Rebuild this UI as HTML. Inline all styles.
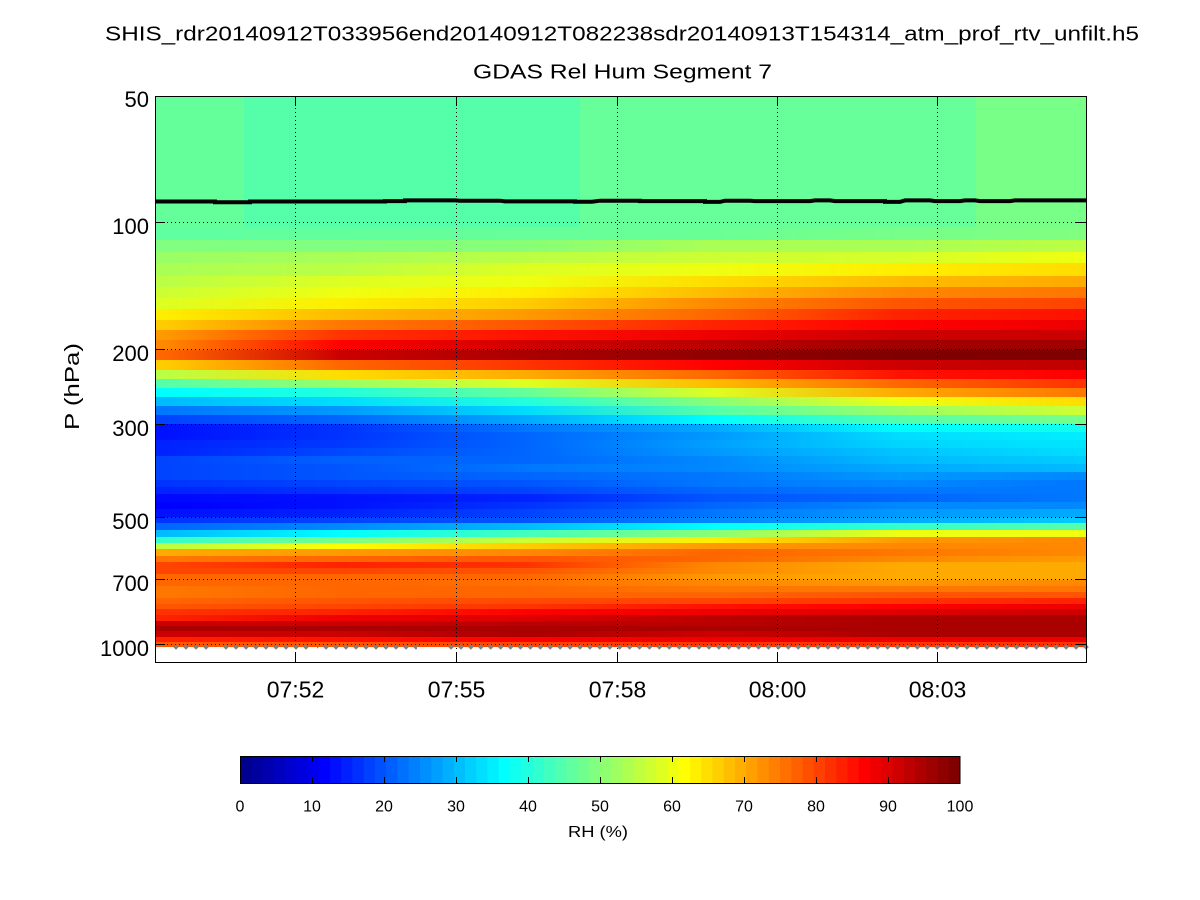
<!DOCTYPE html>
<html>
<head>
<meta charset="utf-8">
<style>
html,body{margin:0;padding:0;background:#fff;}
svg{display:block;}
text{font-family:"Liberation Sans",Arial,sans-serif;fill:#000;}
</style>
</head>
<body>
<svg width="1200" height="900" viewBox="0 0 1200 900" xmlns="http://www.w3.org/2000/svg">
<defs>
<linearGradient id="g1"><stop offset=".011" stop-color="#60ffa0"/><stop offset=".2" stop-color="#62ff9d"/><stop offset=".4" stop-color="#66ff99"/><stop offset=".6" stop-color="#6aff95"/><stop offset=".8" stop-color="#77ff88"/><stop offset=".994" stop-color="#80ff80"/></linearGradient>
<linearGradient id="g2"><stop offset=".011" stop-color="#80ff80"/><stop offset=".2" stop-color="#80ff80"/><stop offset=".4" stop-color="#88ff77"/><stop offset=".6" stop-color="#aaff55"/><stop offset=".8" stop-color="#aaff55"/><stop offset=".994" stop-color="#bbff44"/></linearGradient>
<linearGradient id="g3"><stop offset=".011" stop-color="#99ff66"/><stop offset=".2" stop-color="#aaff55"/><stop offset=".4" stop-color="#bbff44"/><stop offset=".6" stop-color="#ccff33"/><stop offset=".8" stop-color="#d5ff2a"/><stop offset=".994" stop-color="#eeff11"/></linearGradient>
<linearGradient id="g4"><stop offset=".011" stop-color="#aaff55"/><stop offset=".2" stop-color="#bbff44"/><stop offset=".4" stop-color="#ddff22"/><stop offset=".6" stop-color="#eeff11"/><stop offset=".8" stop-color="#ffee00"/><stop offset=".994" stop-color="#ffdd00"/></linearGradient>
<linearGradient id="g5"><stop offset=".011" stop-color="#bbff44"/><stop offset=".2" stop-color="#ddff22"/><stop offset=".4" stop-color="#eeff11"/><stop offset=".6" stop-color="#ffdd00"/><stop offset=".8" stop-color="#ffbb00"/><stop offset=".994" stop-color="#ffaa00"/></linearGradient>
<linearGradient id="g6"><stop offset=".011" stop-color="#ccff33"/><stop offset=".2" stop-color="#eeff11"/><stop offset=".4" stop-color="#ffee00"/><stop offset=".6" stop-color="#ffbb00"/><stop offset=".8" stop-color="#ff8800"/><stop offset=".994" stop-color="#ff7700"/></linearGradient>
<linearGradient id="g7"><stop offset=".011" stop-color="#ddff22"/><stop offset=".2" stop-color="#ffee00"/><stop offset=".4" stop-color="#ffcc00"/><stop offset=".6" stop-color="#ff8800"/><stop offset=".8" stop-color="#ff5500"/><stop offset=".994" stop-color="#ff4400"/></linearGradient>
<linearGradient id="g8"><stop offset=".011" stop-color="#ffee00"/><stop offset=".2" stop-color="#ffbb00"/><stop offset=".4" stop-color="#ff9900"/><stop offset=".6" stop-color="#ff6600"/><stop offset=".8" stop-color="#ff2200"/><stop offset=".994" stop-color="#ff1100"/></linearGradient>
<linearGradient id="g9"><stop offset=".011" stop-color="#ffcc00"/><stop offset=".2" stop-color="#ff7700"/><stop offset=".4" stop-color="#ff5500"/><stop offset=".6" stop-color="#ff2200"/><stop offset=".8" stop-color="#ff0000"/><stop offset=".994" stop-color="#ee0000"/></linearGradient>
<linearGradient id="g10"><stop offset=".011" stop-color="#ff9900"/><stop offset=".2" stop-color="#ff3300"/><stop offset=".4" stop-color="#ff1100"/><stop offset=".6" stop-color="#ee0000"/><stop offset=".8" stop-color="#cc0000"/><stop offset=".994" stop-color="#cc0000"/></linearGradient>
<linearGradient id="g11"><stop offset=".011" stop-color="#ff8800"/><stop offset=".2" stop-color="#ff0000"/><stop offset=".4" stop-color="#d00000"/><stop offset=".6" stop-color="#bb0000"/><stop offset=".8" stop-color="#a00000"/><stop offset=".994" stop-color="#a00000"/></linearGradient>
<linearGradient id="g12"><stop offset=".011" stop-color="#ff6600"/><stop offset=".2" stop-color="#cc0000"/><stop offset=".4" stop-color="#aa0000"/><stop offset=".6" stop-color="#920000"/><stop offset=".8" stop-color="#800000"/><stop offset=".994" stop-color="#800000"/></linearGradient>
<linearGradient id="g13"><stop offset=".011" stop-color="#ffcc00"/><stop offset=".2" stop-color="#ff6600"/><stop offset=".4" stop-color="#ff3300"/><stop offset=".6" stop-color="#ff0000"/><stop offset=".8" stop-color="#cc0000"/><stop offset=".994" stop-color="#c00000"/></linearGradient>
<linearGradient id="g14"><stop offset=".011" stop-color="#bbff44"/><stop offset=".2" stop-color="#ffdd00"/><stop offset=".4" stop-color="#ffaa00"/><stop offset=".6" stop-color="#ff6600"/><stop offset=".8" stop-color="#ff1100"/><stop offset=".994" stop-color="#ff0000"/></linearGradient>
<linearGradient id="g15"><stop offset=".011" stop-color="#55ffaa"/><stop offset=".2" stop-color="#99ff66"/><stop offset=".4" stop-color="#ddff22"/><stop offset=".6" stop-color="#ffbb00"/><stop offset=".8" stop-color="#ff6600"/><stop offset=".994" stop-color="#ff3300"/></linearGradient>
<linearGradient id="g16"><stop offset=".011" stop-color="#00ffff"/><stop offset=".2" stop-color="#22ffdd"/><stop offset=".4" stop-color="#66ff99"/><stop offset=".6" stop-color="#ddff22"/><stop offset=".8" stop-color="#ffaa00"/><stop offset=".994" stop-color="#ff7700"/></linearGradient>
<linearGradient id="g17"><stop offset=".011" stop-color="#00bbff"/><stop offset=".2" stop-color="#00ddff"/><stop offset=".4" stop-color="#22ffdd"/><stop offset=".6" stop-color="#88ff77"/><stop offset=".8" stop-color="#eeff11"/><stop offset=".994" stop-color="#ffdd00"/></linearGradient>
<linearGradient id="g18"><stop offset=".011" stop-color="#0077ff"/><stop offset=".2" stop-color="#0099ff"/><stop offset=".4" stop-color="#00ddff"/><stop offset=".6" stop-color="#55ffaa"/><stop offset=".8" stop-color="#99ff66"/><stop offset=".994" stop-color="#ccff33"/></linearGradient>
<linearGradient id="g19"><stop offset=".011" stop-color="#0044ff"/><stop offset=".2" stop-color="#0066ff"/><stop offset=".4" stop-color="#00aaff"/><stop offset=".6" stop-color="#00ffff"/><stop offset=".8" stop-color="#55ffaa"/><stop offset=".994" stop-color="#77ff88"/></linearGradient>
<linearGradient id="g20"><stop offset=".011" stop-color="#0011ff"/><stop offset=".2" stop-color="#0033ff"/><stop offset=".4" stop-color="#0077ff"/><stop offset=".6" stop-color="#00aaff"/><stop offset=".8" stop-color="#00ffff"/><stop offset=".994" stop-color="#11ffee"/></linearGradient>
<linearGradient id="g21"><stop offset=".011" stop-color="#0011ff"/><stop offset=".2" stop-color="#0033ff"/><stop offset=".4" stop-color="#0066ff"/><stop offset=".6" stop-color="#0099ff"/><stop offset=".8" stop-color="#00ddff"/><stop offset=".994" stop-color="#00eeff"/></linearGradient>
<linearGradient id="g22"><stop offset=".011" stop-color="#0022ff"/><stop offset=".2" stop-color="#0038ff"/><stop offset=".4" stop-color="#0066ff"/><stop offset=".6" stop-color="#00a0ff"/><stop offset=".8" stop-color="#00d5ff"/><stop offset=".994" stop-color="#00e5ff"/></linearGradient>
<linearGradient id="g23"><stop offset=".011" stop-color="#0022ff"/><stop offset=".2" stop-color="#0048ff"/><stop offset=".4" stop-color="#0066ff"/><stop offset=".6" stop-color="#0099ff"/><stop offset=".8" stop-color="#00c5ff"/><stop offset=".994" stop-color="#00ddff"/></linearGradient>
<linearGradient id="g24"><stop offset=".011" stop-color="#0044ff"/><stop offset=".2" stop-color="#0060ff"/><stop offset=".4" stop-color="#0066ff"/><stop offset=".6" stop-color="#0088ff"/><stop offset=".8" stop-color="#00bbff"/><stop offset=".994" stop-color="#00ccff"/></linearGradient>
<linearGradient id="g25"><stop offset=".011" stop-color="#0044ff"/><stop offset=".2" stop-color="#0055ff"/><stop offset=".4" stop-color="#0077ff"/><stop offset=".6" stop-color="#0088ff"/><stop offset=".8" stop-color="#00aaff"/><stop offset=".994" stop-color="#00bbff"/></linearGradient>
<linearGradient id="g26"><stop offset=".011" stop-color="#0044ff"/><stop offset=".2" stop-color="#0055ff"/><stop offset=".4" stop-color="#0066ff"/><stop offset=".6" stop-color="#0077ff"/><stop offset=".8" stop-color="#0099ff"/><stop offset=".994" stop-color="#0088ff"/></linearGradient>
<linearGradient id="g27"><stop offset=".011" stop-color="#0033ff"/><stop offset=".2" stop-color="#0044ff"/><stop offset=".4" stop-color="#0055ff"/><stop offset=".6" stop-color="#0077ff"/><stop offset=".8" stop-color="#0088ff"/><stop offset=".994" stop-color="#0077ff"/></linearGradient>
<linearGradient id="g28"><stop offset=".011" stop-color="#0022ff"/><stop offset=".2" stop-color="#0033ff"/><stop offset=".4" stop-color="#0044ff"/><stop offset=".6" stop-color="#0066ff"/><stop offset=".8" stop-color="#0077ff"/><stop offset=".994" stop-color="#0077ff"/></linearGradient>
<linearGradient id="g29"><stop offset=".011" stop-color="#0008ff"/><stop offset=".2" stop-color="#0011ff"/><stop offset=".4" stop-color="#0022ff"/><stop offset=".6" stop-color="#0055ff"/><stop offset=".8" stop-color="#0066ff"/><stop offset=".994" stop-color="#0077ff"/></linearGradient>
<linearGradient id="g30"><stop offset=".011" stop-color="#0000ff"/><stop offset=".2" stop-color="#0011ff"/><stop offset=".4" stop-color="#0033ff"/><stop offset=".6" stop-color="#0066ff"/><stop offset=".8" stop-color="#0088ff"/><stop offset=".994" stop-color="#0088ff"/></linearGradient>
<linearGradient id="g31"><stop offset=".011" stop-color="#0011ff"/><stop offset=".2" stop-color="#0022ff"/><stop offset=".4" stop-color="#0044ff"/><stop offset=".6" stop-color="#0077ff"/><stop offset=".8" stop-color="#0099ff"/><stop offset=".994" stop-color="#00aaff"/></linearGradient>
<linearGradient id="g32"><stop offset=".011" stop-color="#0033ff"/><stop offset=".2" stop-color="#0044ff"/><stop offset=".4" stop-color="#0055ff"/><stop offset=".6" stop-color="#0088ff"/><stop offset=".8" stop-color="#00aaff"/><stop offset=".994" stop-color="#00ccff"/></linearGradient>
<linearGradient id="g33"><stop offset=".011" stop-color="#0066ff"/><stop offset=".2" stop-color="#0088ff"/><stop offset=".4" stop-color="#00bbff"/><stop offset=".6" stop-color="#00ffff"/><stop offset=".8" stop-color="#33ffcc"/><stop offset=".994" stop-color="#55ffaa"/></linearGradient>
<linearGradient id="g34"><stop offset=".011" stop-color="#00bbff"/><stop offset=".2" stop-color="#00ffff"/><stop offset=".4" stop-color="#44ffbb"/><stop offset=".6" stop-color="#88ff77"/><stop offset=".8" stop-color="#eeff11"/><stop offset=".994" stop-color="#eeff11"/></linearGradient>
<linearGradient id="g35"><stop offset=".011" stop-color="#33ffcc"/><stop offset=".2" stop-color="#77ff88"/><stop offset=".4" stop-color="#ccff33"/><stop offset=".6" stop-color="#ffee00"/><stop offset=".8" stop-color="#ff9900"/><stop offset=".994" stop-color="#ff8800"/></linearGradient>
<linearGradient id="g36"><stop offset=".011" stop-color="#bbff44"/><stop offset=".2" stop-color="#ffff00"/><stop offset=".4" stop-color="#ffcc00"/><stop offset=".6" stop-color="#ff9900"/><stop offset=".8" stop-color="#ff8800"/><stop offset=".994" stop-color="#ff8800"/></linearGradient>
<linearGradient id="g37"><stop offset=".011" stop-color="#ffaa00"/><stop offset=".2" stop-color="#ff9900"/><stop offset=".4" stop-color="#ff8800"/><stop offset=".6" stop-color="#ff6600"/><stop offset=".8" stop-color="#ff7700"/><stop offset=".994" stop-color="#ff8800"/></linearGradient>
<linearGradient id="g38"><stop offset=".011" stop-color="#ff7700"/><stop offset=".2" stop-color="#ff6600"/><stop offset=".4" stop-color="#ff5500"/><stop offset=".6" stop-color="#ff6600"/><stop offset=".8" stop-color="#ff8800"/><stop offset=".994" stop-color="#ff9900"/></linearGradient>
<linearGradient id="g39"><stop offset=".011" stop-color="#ff4400"/><stop offset=".2" stop-color="#ff2200"/><stop offset=".4" stop-color="#ff3300"/><stop offset=".6" stop-color="#ff8800"/><stop offset=".8" stop-color="#ffaa00"/><stop offset=".994" stop-color="#ffaa00"/></linearGradient>
<linearGradient id="g40"><stop offset=".011" stop-color="#ff4400"/><stop offset=".2" stop-color="#ff4400"/><stop offset=".4" stop-color="#ff5500"/><stop offset=".6" stop-color="#ff8800"/><stop offset=".8" stop-color="#ffaa00"/><stop offset=".994" stop-color="#ffaa00"/></linearGradient>
<linearGradient id="g41"><stop offset=".011" stop-color="#ff6600"/><stop offset=".2" stop-color="#ff6600"/><stop offset=".4" stop-color="#ff6600"/><stop offset=".6" stop-color="#ff9900"/><stop offset=".8" stop-color="#ffaa00"/><stop offset=".994" stop-color="#ffaa00"/></linearGradient>
<linearGradient id="g42"><stop offset=".011" stop-color="#ff6600"/><stop offset=".2" stop-color="#ff6600"/><stop offset=".4" stop-color="#ff7000"/><stop offset=".6" stop-color="#ff8800"/><stop offset=".8" stop-color="#ff9900"/><stop offset=".994" stop-color="#ff8800"/></linearGradient>
<linearGradient id="g43"><stop offset=".011" stop-color="#ff7700"/><stop offset=".2" stop-color="#ff6600"/><stop offset=".4" stop-color="#ff6600"/><stop offset=".6" stop-color="#ff7700"/><stop offset=".8" stop-color="#ff7700"/><stop offset=".994" stop-color="#ff7700"/></linearGradient>
<linearGradient id="g44"><stop offset=".011" stop-color="#ff7700"/><stop offset=".2" stop-color="#ff6600"/><stop offset=".4" stop-color="#ff6600"/><stop offset=".6" stop-color="#ff6600"/><stop offset=".8" stop-color="#ff5500"/><stop offset=".994" stop-color="#ff5500"/></linearGradient>
<linearGradient id="g45"><stop offset=".011" stop-color="#ff6600"/><stop offset=".2" stop-color="#ff5500"/><stop offset=".4" stop-color="#ff4a00"/><stop offset=".6" stop-color="#ff4400"/><stop offset=".8" stop-color="#ff3300"/><stop offset=".994" stop-color="#ff2200"/></linearGradient>
<linearGradient id="g46"><stop offset=".011" stop-color="#ff5500"/><stop offset=".2" stop-color="#ff4400"/><stop offset=".4" stop-color="#ff3300"/><stop offset=".6" stop-color="#ff1100"/><stop offset=".8" stop-color="#ff0000"/><stop offset=".994" stop-color="#ee0000"/></linearGradient>
<linearGradient id="g47"><stop offset=".011" stop-color="#ff3300"/><stop offset=".2" stop-color="#ff2200"/><stop offset=".4" stop-color="#ff0000"/><stop offset=".6" stop-color="#ee0000"/><stop offset=".8" stop-color="#dd0000"/><stop offset=".994" stop-color="#cc0000"/></linearGradient>
<linearGradient id="g48"><stop offset=".011" stop-color="#ff2200"/><stop offset=".2" stop-color="#ee0000"/><stop offset=".4" stop-color="#dd0000"/><stop offset=".6" stop-color="#bb0000"/><stop offset=".8" stop-color="#aa0000"/><stop offset=".994" stop-color="#aa0000"/></linearGradient>
<linearGradient id="g49"><stop offset=".011" stop-color="#cc0000"/><stop offset=".2" stop-color="#cc0000"/><stop offset=".4" stop-color="#bb0000"/><stop offset=".6" stop-color="#bb0000"/><stop offset=".8" stop-color="#aa0000"/><stop offset=".994" stop-color="#aa0000"/></linearGradient>
<linearGradient id="g51"><stop offset=".011" stop-color="#cc0000"/><stop offset=".2" stop-color="#cc0000"/><stop offset=".4" stop-color="#aa0000"/><stop offset=".6" stop-color="#cc0000"/><stop offset=".8" stop-color="#aa0000"/><stop offset=".994" stop-color="#aa0000"/></linearGradient>
<linearGradient id="g52"><stop offset=".011" stop-color="#ff2200"/><stop offset=".2" stop-color="#ff1100"/><stop offset=".4" stop-color="#ff0000"/><stop offset=".6" stop-color="#ee0000"/><stop offset=".8" stop-color="#ee0000"/><stop offset=".994" stop-color="#ee0000"/></linearGradient>
<linearGradient id="g53"><stop offset=".011" stop-color="#ff5500"/><stop offset=".2" stop-color="#ff5500"/><stop offset=".4" stop-color="#ff4400"/><stop offset=".6" stop-color="#ff3300"/><stop offset=".8" stop-color="#ff3300"/><stop offset=".994" stop-color="#ff3300"/></linearGradient>
<pattern id="dm" patternUnits="userSpaceOnUse" x="446.04" y="644" width="9.922" height="7"><path d="M4.96 0.2l2.8 2.8l-2.8 2.8l-2.8-2.8z" fill="#808080"/></pattern>
<pattern id="dm2" patternUnits="userSpaceOnUse" x="171" y="644" width="10" height="7"><path d="M5 0.2l2.8 2.8l-2.8 2.8l-2.8-2.8z" fill="#808080"/></pattern>
</defs>

<rect x="0" y="0" width="1200" height="900" fill="#fff"/>

<text x="105" y="40.5" font-size="20" textLength="1034" lengthAdjust="spacingAndGlyphs">SHIS_rdr20140912T033956end20140912T082238sdr20140913T154314_atm_prof_rtv_unfilt.h5</text>
<text x="473" y="78.5" font-size="20" textLength="299" lengthAdjust="spacingAndGlyphs">GDAS Rel Hum Segment 7</text>

<g shape-rendering="crispEdges">
<rect x="155" y="96" width="89" height="131" fill="#64ff9b"/>
<rect x="244" y="96" width="336" height="131" fill="#55ffaa"/>
<rect x="580" y="96" width="396" height="131" fill="#66ff99"/>
<rect x="976" y="96" width="110" height="131" fill="#77ff88"/>
<rect x="155" y="227" width="931" height="13" fill="url(#g1)"/>
<rect x="155" y="240" width="931" height="12" fill="url(#g2)"/>
<rect x="155" y="252" width="931" height="11" fill="url(#g3)"/>
<rect x="155" y="263" width="931" height="13" fill="url(#g4)"/>
<rect x="155" y="276" width="931" height="11" fill="url(#g5)"/>
<rect x="155" y="287" width="931" height="11" fill="url(#g6)"/>
<rect x="155" y="298" width="931" height="11" fill="url(#g7)"/>
<rect x="155" y="309" width="931" height="11" fill="url(#g8)"/>
<rect x="155" y="320" width="931" height="10" fill="url(#g9)"/>
<rect x="155" y="330" width="931" height="10" fill="url(#g10)"/>
<rect x="155" y="340" width="931" height="10" fill="url(#g11)"/>
<rect x="155" y="350" width="931" height="10" fill="url(#g12)"/>
<rect x="155" y="360" width="931" height="10" fill="url(#g13)"/>
<rect x="155" y="370" width="931" height="9" fill="url(#g14)"/>
<rect x="155" y="379" width="931" height="9" fill="url(#g15)"/>
<rect x="155" y="388" width="931" height="9" fill="url(#g16)"/>
<rect x="155" y="397" width="931" height="9" fill="url(#g17)"/>
<rect x="155" y="406" width="931" height="9" fill="url(#g18)"/>
<rect x="155" y="415" width="931" height="9" fill="url(#g19)"/>
<rect x="155" y="424" width="931" height="8" fill="url(#g20)"/>
<rect x="155" y="432" width="931" height="8" fill="url(#g21)"/>
<rect x="155" y="440" width="931" height="8" fill="url(#g22)"/>
<rect x="155" y="448" width="931" height="8" fill="url(#g23)"/>
<rect x="155" y="456" width="931" height="8" fill="url(#g24)"/>
<rect x="155" y="464" width="931" height="8" fill="url(#g25)"/>
<rect x="155" y="472" width="931" height="8" fill="url(#g26)"/>
<rect x="155" y="480" width="931" height="7" fill="url(#g27)"/>
<rect x="155" y="487" width="931" height="7" fill="url(#g28)"/>
<rect x="155" y="494" width="931" height="8" fill="url(#g29)"/>
<rect x="155" y="502" width="931" height="7" fill="url(#g30)"/>
<rect x="155" y="509" width="931" height="8" fill="url(#g31)"/>
<rect x="155" y="517" width="931" height="6" fill="url(#g32)"/>
<rect x="155" y="523" width="931" height="7" fill="url(#g33)"/>
<rect x="155" y="530" width="931" height="7" fill="url(#g34)"/>
<rect x="155" y="537" width="931" height="6" fill="url(#g35)"/>
<rect x="155" y="543" width="931" height="6" fill="url(#g36)"/>
<rect x="155" y="549" width="931" height="7" fill="url(#g37)"/>
<rect x="155" y="556" width="931" height="6" fill="url(#g38)"/>
<rect x="155" y="562" width="931" height="6" fill="url(#g39)"/>
<rect x="155" y="568" width="931" height="6" fill="url(#g40)"/>
<rect x="155" y="574" width="931" height="6" fill="url(#g41)"/>
<rect x="155" y="580" width="931" height="6" fill="url(#g42)"/>
<rect x="155" y="586" width="931" height="6" fill="url(#g43)"/>
<rect x="155" y="592" width="931" height="6" fill="url(#g44)"/>
<rect x="155" y="598" width="931" height="6" fill="url(#g45)"/>
<rect x="155" y="604" width="931" height="5" fill="url(#g46)"/>
<rect x="155" y="609" width="931" height="6" fill="url(#g47)"/>
<rect x="155" y="615" width="931" height="6" fill="url(#g48)"/>
<rect x="155" y="621" width="931" height="5" fill="url(#g49)"/>
<rect x="155" y="626" width="931" height="5" fill="#aa0000"/>
<rect x="155" y="631" width="931" height="6" fill="url(#g51)"/>
<rect x="155" y="637" width="931" height="5" fill="url(#g52)"/>
<rect x="155" y="642" width="931" height="5" fill="url(#g53)"/>
</g>

<path d="M155 201.5 L215 201.5 L215 202.2 L250 202.2 L250 201.5 L385 201.5 L385 201.1 L405 201.1 L405 200.4 L455 200.4 L460 200.7 L500 200.7 L505 201.4 L575 201.4 L575 201.7 L592 201.7 L600 200.7 L640 200.7 L640 201.1 L705 201.1 L705 201.9 L720 201.9 L725 200.7 L750 200.7 L755 201.1 L810 201.1 L815 200.4 L830 200.4 L835 201.1 L885 201.1 L885 201.9 L900 201.9 L905 200.4 L930 200.4 L935 201.1 L960 201.1 L965 200.4 L975 200.4 L980 201.1 L1010 201.1 L1015 200.4 L1086 200.4" fill="none" stroke="#000" stroke-width="4"/>

<g stroke="#000" stroke-width="1" stroke-dasharray="1 3" fill="none">
<line x1="295.5" y1="96" x2="295.5" y2="662"/>
<line x1="456.5" y1="96" x2="456.5" y2="662"/>
<line x1="617.5" y1="96" x2="617.5" y2="662"/>
<line x1="777.5" y1="96" x2="777.5" y2="662"/>
<line x1="937.5" y1="96" x2="937.5" y2="662"/>
<line x1="155" y1="222.5" x2="1086" y2="222.5"/>
<line x1="155" y1="349.5" x2="1086" y2="349.5"/>
<line x1="155" y1="424.5" x2="1086" y2="424.5"/>
<line x1="155" y1="517.5" x2="1086" y2="517.5"/>
<line x1="155" y1="579.5" x2="1086" y2="579.5"/>
<line x1="155" y1="644.5" x2="1086" y2="644.5"/>
</g>

<rect x="171" y="644" width="40" height="7" fill="url(#dm2)"/>
<rect x="220" y="644" width="90" height="7" fill="url(#dm2)"/>
<rect x="317" y="644" width="100" height="7" fill="url(#dm2)"/>
<rect x="446" y="644" width="644" height="7" fill="url(#dm)"/>

<rect x="155.5" y="96.5" width="931" height="566" fill="none" stroke="#000" stroke-width="1"/>
<g stroke="#000" stroke-width="1" fill="none">
<path d="M155 222.5h10M155 349.5h10M155 424.5h10M155 517.5h10M155 579.5h10M155 644.5h10"/>
<path d="M1086 222.5h-10M1086 349.5h-10M1086 424.5h-10M1086 517.5h-10M1086 579.5h-10M1086 644.5h-10"/>
<path d="M295.5 662v-10M456.5 662v-10M617.5 662v-10M777.5 662v-10M937.5 662v-10"/>
<path d="M295.5 96v10M456.5 96v10M617.5 96v10M777.5 96v10M937.5 96v10"/>
</g>

<g font-size="22" text-anchor="end">
<text x="149" y="107">50</text>
<text x="149" y="234">100</text>
<text x="149" y="361">200</text>
<text x="149" y="436">300</text>
<text x="149" y="529">500</text>
<text x="149" y="591">700</text>
<text x="149" y="656">1000</text>
</g>

<g font-size="23" text-anchor="middle">
<text x="295.5" y="697.5">07:52</text>
<text x="456.5" y="697.5">07:55</text>
<text x="617.5" y="697.5">07:58</text>
<text x="777.5" y="697.5">08:00</text>
<text x="937.5" y="697.5">08:03</text>
</g>

<text transform="translate(79,386.5) rotate(-90)" font-size="20" text-anchor="middle" textLength="87" lengthAdjust="spacingAndGlyphs">P (hPa)</text>

<g>
<rect x="240" y="756" width="11.6" height="27" fill="#00008f"/>
<rect x="251.25" y="756" width="11.6" height="27" fill="#00009f"/>
<rect x="262.5" y="756" width="11.6" height="27" fill="#0000af"/>
<rect x="273.75" y="756" width="11.6" height="27" fill="#0000bf"/>
<rect x="285" y="756" width="11.6" height="27" fill="#0000cf"/>
<rect x="296.25" y="756" width="11.6" height="27" fill="#0000df"/>
<rect x="307.5" y="756" width="11.6" height="27" fill="#0000ef"/>
<rect x="318.75" y="756" width="11.6" height="27" fill="#0000ff"/>
<rect x="330" y="756" width="11.6" height="27" fill="#0010ff"/>
<rect x="341.25" y="756" width="11.6" height="27" fill="#0020ff"/>
<rect x="352.5" y="756" width="11.6" height="27" fill="#0030ff"/>
<rect x="363.75" y="756" width="11.6" height="27" fill="#0040ff"/>
<rect x="375" y="756" width="11.6" height="27" fill="#0050ff"/>
<rect x="386.25" y="756" width="11.6" height="27" fill="#0060ff"/>
<rect x="397.5" y="756" width="11.6" height="27" fill="#0070ff"/>
<rect x="408.75" y="756" width="11.6" height="27" fill="#0080ff"/>
<rect x="420" y="756" width="11.6" height="27" fill="#008fff"/>
<rect x="431.25" y="756" width="11.6" height="27" fill="#009fff"/>
<rect x="442.5" y="756" width="11.6" height="27" fill="#00afff"/>
<rect x="453.75" y="756" width="11.6" height="27" fill="#00bfff"/>
<rect x="465" y="756" width="11.6" height="27" fill="#00cfff"/>
<rect x="476.25" y="756" width="11.6" height="27" fill="#00dfff"/>
<rect x="487.5" y="756" width="11.6" height="27" fill="#00efff"/>
<rect x="498.75" y="756" width="11.6" height="27" fill="#00ffff"/>
<rect x="510" y="756" width="11.6" height="27" fill="#10ffef"/>
<rect x="521.25" y="756" width="11.6" height="27" fill="#20ffdf"/>
<rect x="532.5" y="756" width="11.6" height="27" fill="#30ffcf"/>
<rect x="543.75" y="756" width="11.6" height="27" fill="#40ffbf"/>
<rect x="555" y="756" width="11.6" height="27" fill="#50ffaf"/>
<rect x="566.25" y="756" width="11.6" height="27" fill="#60ff9f"/>
<rect x="577.5" y="756" width="11.6" height="27" fill="#70ff8f"/>
<rect x="588.75" y="756" width="11.6" height="27" fill="#80ff80"/>
<rect x="600" y="756" width="11.6" height="27" fill="#8fff70"/>
<rect x="611.25" y="756" width="11.6" height="27" fill="#9fff60"/>
<rect x="622.5" y="756" width="11.6" height="27" fill="#afff50"/>
<rect x="633.75" y="756" width="11.6" height="27" fill="#bfff40"/>
<rect x="645" y="756" width="11.6" height="27" fill="#cfff30"/>
<rect x="656.25" y="756" width="11.6" height="27" fill="#dfff20"/>
<rect x="667.5" y="756" width="11.6" height="27" fill="#efff10"/>
<rect x="678.75" y="756" width="11.6" height="27" fill="#ffff00"/>
<rect x="690" y="756" width="11.6" height="27" fill="#ffef00"/>
<rect x="701.25" y="756" width="11.6" height="27" fill="#ffdf00"/>
<rect x="712.5" y="756" width="11.6" height="27" fill="#ffcf00"/>
<rect x="723.75" y="756" width="11.6" height="27" fill="#ffbf00"/>
<rect x="735" y="756" width="11.6" height="27" fill="#ffaf00"/>
<rect x="746.25" y="756" width="11.6" height="27" fill="#ff9f00"/>
<rect x="757.5" y="756" width="11.6" height="27" fill="#ff8f00"/>
<rect x="768.75" y="756" width="11.6" height="27" fill="#ff8000"/>
<rect x="780" y="756" width="11.6" height="27" fill="#ff7000"/>
<rect x="791.25" y="756" width="11.6" height="27" fill="#ff6000"/>
<rect x="802.5" y="756" width="11.6" height="27" fill="#ff5000"/>
<rect x="813.75" y="756" width="11.6" height="27" fill="#ff4000"/>
<rect x="825" y="756" width="11.6" height="27" fill="#ff3000"/>
<rect x="836.25" y="756" width="11.6" height="27" fill="#ff2000"/>
<rect x="847.5" y="756" width="11.6" height="27" fill="#ff1000"/>
<rect x="858.75" y="756" width="11.6" height="27" fill="#ff0000"/>
<rect x="870" y="756" width="11.6" height="27" fill="#ef0000"/>
<rect x="881.25" y="756" width="11.6" height="27" fill="#df0000"/>
<rect x="892.5" y="756" width="11.6" height="27" fill="#cf0000"/>
<rect x="903.75" y="756" width="11.6" height="27" fill="#bf0000"/>
<rect x="915" y="756" width="11.6" height="27" fill="#af0000"/>
<rect x="926.25" y="756" width="11.6" height="27" fill="#9f0000"/>
<rect x="937.5" y="756" width="11.6" height="27" fill="#8f0000"/>
<rect x="948.75" y="756" width="11.25" height="27" fill="#800000"/>
</g>
<rect x="240.5" y="756.5" width="719.5" height="27" fill="none" stroke="#000" stroke-width="1"/>
<g stroke="#000" stroke-width="1">
<path d="M312.5 756v6M384.5 756v6M456.5 756v6M528.5 756v6M600.5 756v6M672.5 756v6M744.5 756v6M816.5 756v6M888.5 756v6"/>
<path d="M312.5 783v-6M384.5 783v-6M456.5 783v-6M528.5 783v-6M600.5 783v-6M672.5 783v-6M744.5 783v-6M816.5 783v-6M888.5 783v-6"/>
</g>
<g font-size="16" text-anchor="middle">
<text x="240" y="811.5">0</text>
<text x="312" y="811.5">10</text>
<text x="384" y="811.5">20</text>
<text x="456" y="811.5">30</text>
<text x="528" y="811.5">40</text>
<text x="600" y="811.5">50</text>
<text x="672" y="811.5">60</text>
<text x="744" y="811.5">70</text>
<text x="816" y="811.5">80</text>
<text x="888" y="811.5">90</text>
<text x="960" y="811.5">100</text>
</g>
<text x="568" y="837" font-size="16" textLength="60" lengthAdjust="spacingAndGlyphs">RH (%)</text>
</svg>
</body>
</html>
